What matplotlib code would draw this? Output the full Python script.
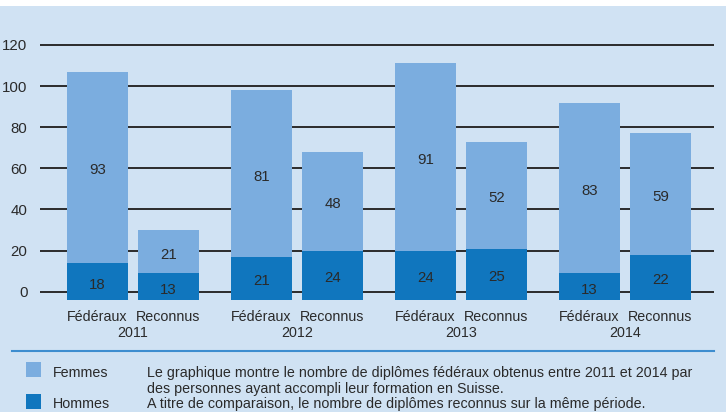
import numpy as np
import matplotlib
matplotlib.use("Agg")
import matplotlib.pyplot as plt
import matplotlib.transforms as mtrans

plt.rcParams['font.family'] = ['Liberation Sans', 'DejaVu Sans']

years = ['2011', '2012', '2013', '2014']
kinds = ['Fédéraux', 'Reconnus']
hommes_fed = [18, 21, 24, 13]
femmes_fed = [93, 81, 91, 83]
hommes_rec = [13, 24, 25, 22]
femmes_rec = [21, 48, 52, 59]
yticks = [0, 20, 40, 60, 80, 100, 120]

BASE = -4  # bars start a little under the zero line
BG = '#d0e2f3'
C_FEM = '#7baddf'
C_HOM = '#1076be'
TXT = '#2a2a2a'
FS = 10.3

fig = plt.figure(figsize=(7.26, 4.12), dpi=100)
fig.patch.set_facecolor('white')
# blue panel (white strip on top)
fig.add_artist(plt.Rectangle((0, 0), 1, 1 - 6 / 412, transform=fig.transFigure,
                             facecolor=BG, edgecolor='none', zorder=0))

ax = fig.add_axes([40 / 726, 110 / 412, 674 / 726, 267.3 / 412])
ax.set_facecolor('none')
for s in ax.spines.values():
    s.set_visible(False)

g = np.arange(len(years))
off = 0.433
w = 0.372
xf = g - off / 2
xr = g + off / 2

ax.bar(xf, hommes_fed, w, bottom=BASE, color=C_HOM, zorder=3)
ax.bar(xf, femmes_fed, w, bottom=BASE + np.array(hommes_fed), color=C_FEM, zorder=3)
ax.bar(xr, hommes_rec, w, bottom=BASE, color=C_HOM, zorder=3)
ax.bar(xr, femmes_rec, w, bottom=BASE + np.array(hommes_rec), color=C_FEM, zorder=3)

for x, h, f in list(zip(xf, hommes_fed, femmes_fed)) + list(zip(xr, hommes_rec, femmes_rec)):
    ax.text(x, BASE + h / 2 - 0.8, str(h), ha='center', va='center_baseline', fontsize=FS + 0.5, color=TXT, zorder=4)
    ax.text(x, BASE + h + f / 2 - 0.8, str(f), ha='center', va='center_baseline', fontsize=FS + 0.5, color=TXT, zorder=4)

for t in yticks:
    ax.axhline(t, color='#2b2b2b', lw=1.4, zorder=1)

ax.set_xlim(-0.567, 3.543)
ax.set_ylim(-5, 125)
ax.set_yticks(yticks)
ax.set_yticklabels([str(t) for t in yticks], fontsize=FS + 0.5, color=TXT)
ax.tick_params(axis='y', length=0, pad=9)

ax.set_xticks(np.concatenate([xf, xr]))
ax.set_xticklabels([kinds[0]] * 4 + [kinds[1]] * 4, fontsize=FS, color=TXT)
ax.tick_params(axis='x', length=0, pad=6)

tr = mtrans.blended_transform_factory(ax.transData, fig.transFigure)
for x, y in zip(g, years):
    ax.text(x, 1 - 333 / 412, y, transform=tr, ha='center', va='center', fontsize=FS, color=TXT)

# separator line
fig.add_artist(plt.Line2D([12 / 726, 714 / 726], [1 - 351 / 412] * 2, transform=fig.transFigure,
                          color='#3d8dcf', lw=1.5))

# legend block
fig.add_artist(plt.Rectangle((26 / 726, 1 - 377 / 412), 15 / 726, 15 / 412,
                             transform=fig.transFigure, facecolor=C_FEM, edgecolor='none'))
fig.add_artist(plt.Rectangle((26 / 726, 1 - 409 / 412), 15 / 726, 15 / 412,
                             transform=fig.transFigure, facecolor=C_HOM, edgecolor='none'))
fig.text(53 / 726, 1 - 373 / 412, 'Femmes', fontsize=FS, color=TXT, va='center')
fig.text(53 / 726, 1 - 404 / 412, 'Hommes', fontsize=FS, color=TXT, va='center')
fig.text(147 / 726, 1 - 373 / 412,
         'Le graphique montre le nombre de diplômes fédéraux obtenus entre 2011 et 2014 par',
         fontsize=FS, color=TXT, va='center')
fig.text(147 / 726, 1 - 388.5 / 412, 'des personnes ayant accompli leur formation en Suisse.',
         fontsize=FS, color=TXT, va='center')
fig.text(147 / 726, 1 - 404 / 412,
         'A titre de comparaison, le nombre de diplômes reconnus sur la même période.',
         fontsize=FS, color=TXT, va='center')

fig.savefig('out.png', dpi=100, facecolor=fig.get_facecolor())
